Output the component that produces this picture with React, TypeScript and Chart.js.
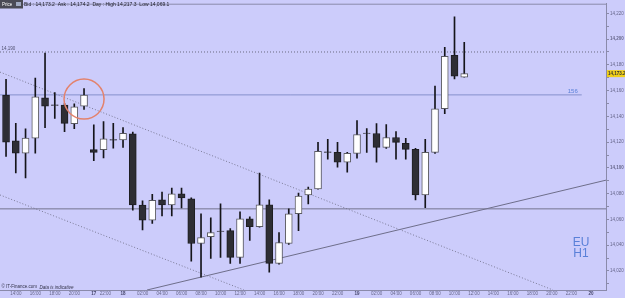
import React, { useEffect, useRef } from "react";
import { Chart, registerables } from "chart.js";

Chart.register(...registerables);

// ---- Data (H1 candles, index = hour slot) ----
const opens = [
  14156.5, 14121.1, 14111.5, 14123.1, 14154.4, 14149.0, 14148.8, 14134.4, 14148.0, 14114.2,
  14114.2, 14122.0, 14121.8, 14126.5, 14071.1, 14059.5, 14075.2, 14071.3, 14079.8, 14075.9,
  14041.3, 14046.7, 14051.0, 14051.3, 14030.5, 14060.5, 14054.4, 14071.3, 14025.9, 14041.3,
  14064.4, 14079.0, 14083.6, 14112.5, 14112.1, 14104.4, 14111.3, 14127.1, 14126.7, 14115.9,
  14123.6, 14119.0, 14114.4, 14079.0, 14112.1, 14145.9, 14187.5, 14170.5,
];
const closes = [
  14120.0, 14111.5, 14123.1, 14155.2, 14148.0, 14148.6, 14134.6, 14147.5, 14156.5, 14112.1,
  14122.6, 14121.6, 14126.9, 14071.3, 14059.5, 14074.9, 14071.3, 14079.8, 14076.7, 14041.3,
  14045.9, 14049.8, 14050.6, 14030.5, 14060.5, 14054.4, 14071.3, 14025.9, 14042.1, 14064.4,
  14078.2, 14083.6, 14112.8, 14112.1, 14104.4, 14111.3, 14125.9, 14126.7, 14115.9, 14123.6,
  14119.8, 14114.4, 14079.0, 14112.1, 14145.9, 14186.7, 14171.3, 14173.2,
];
const highs = [
  14168.8, 14134.6, 14130.3, 14169.8, 14189.2, 14158.5, 14150.0, 14149.8, 14161.5, 14133.4,
  14135.9, 14134.6, 14131.3, 14127.8, 14074.4, 14079.5, 14081.3, 14084.4, 14084.4, 14076.7,
  14064.4, 14061.3, 14072.1, 14052.8, 14065.9, 14062.1, 14095.9, 14075.2, 14049.8, 14068.2,
  14080.5, 14085.2, 14119.8, 14122.1, 14119.8, 14112.1, 14136.7, 14130.5, 14134.4, 14133.6,
  14128.2, 14122.9, 14115.2, 14122.1, 14163.6, 14193.6, 14217.3, 14197.5,
];
const lows = [
  14109.0, 14096.2, 14092.3, 14111.5, 14131.3, 14138.5, 14128.2, 14130.5, 14145.4, 14105.7,
  14107.7, 14115.4, 14115.9, 14067.2, 14051.8, 14056.9, 14062.8, 14062.8, 14069.0, 14027.5,
  14015.2, 14029.8, 14030.5, 14025.9, 14025.9, 14043.6, 14054.0, 14019.0, 14025.2, 14040.5,
  14051.3, 14072.1, 14083.4, 14106.7, 14100.5, 14096.7, 14107.5, 14112.1, 14104.4, 14115.2,
  14106.7, 14106.7, 14075.2, 14069.1, 14111.3, 14142.1, 14169.0, 14170.5,
];

// ---- Axis ticks ----
const xTickPositions = [
  1, 3, 5, 7, 9, 10.2, 12, 14, 16, 18, 20, 22, 24, 26, 28, 30, 32, 34, 36, 38,
  40, 42, 44, 46, 48, 50, 52, 54, 56, 58, 60,
];
const xTickLabels = [
  "14:00", "16:00", "18:00", "20:00", "17", "22:00", "18", "02:00", "04:00", "06:00",
  "08:00", "10:00", "12:00", "14:00", "16:00", "18:00", "20:00", "22:00", "19", "02:00",
  "04:00", "06:00", "08:00", "10:00", "12:00", "14:00", "16:00", "18:00", "20:00", "22:00", "20",
];
const dayLabels = ["17", "18", "19", "20"];
const xMin = -0.62;
const xMax = 61.54;
const yMin = 14005.2;
const yMax = 14227.5;
const yStep = 10;
const yLabelStep = 20;

// ---- Studies ----
const resistanceLevel = 14190;
const midLevel = 14156.7;
const midLevelEnd = 59.05;
const midLevelLabel = "156";
const supportLevel = 14068.2;
const upperTrend = [
  { x: -0.62, y: 14174.4 },
  { x: 56.1, y: 14005.2 },
];
const lowerTrend = [
  { x: -0.62, y: 14079.0 },
  { x: 24.4, y: 14005.2 },
];
const risingTrend = [
  { x: 14.46, y: 14005.2 },
  { x: 61.54, y: 14090.5 },
];
const circledCandle = 8;
const headerLabel = "Price";
const headerText = "Bid : 14,173.2  Ask : 14,174.2  Day : High 14,217.3  Low 14,069.1";
const sourceText = "\u00a9 IT-Finance.com";
const sourceNote = "Data is indicative";
const instrumentLines = ["EU", "H1"];

const FONT = "'Liberation Sans', Arial, sans-serif";
const BG = "#ccccfb";
const AXIS = "#8a8aaa";
const TICK_TEXT = "#66668a";

const fmt = (v: number, d = 0) =>
  v.toLocaleString("en-US", { minimumFractionDigits: d, maximumFractionDigits: d });

export default function App() {
  const ref = useRef<HTMLCanvasElement | null>(null);

  useEffect(() => {
    if (!ref.current) return;
    const isBear = opens.map((o, i) => o > closes[i]);

    const decor = {
      id: "decor",
      beforeDraw(chart: any) {
        const c = chart.ctx;
        c.save();
        c.fillStyle = BG;
        c.fillRect(0, 0, chart.width, chart.height);
        c.restore();
      },
      afterDatasetsDraw(chart: any) {
        const c = chart.ctx;
        const xs = chart.scales.x;
        const ys = chart.scales.y;
        const area = chart.chartArea;
        c.save();
        // top border
        c.strokeStyle = AXIS;
        c.lineWidth = 1;
        c.beginPath();
        c.moveTo(0, area.top + 0.5);
        c.lineTo(area.right, area.top + 0.5);
        c.stroke();

        // circle highlight
        const cx = xs.getPixelForValue(circledCandle);
        const cy = ys.getPixelForValue((highs[circledCandle] + lows[circledCandle]) / 2);
        c.strokeStyle = "#e3826c";
        c.lineWidth = 1.5;
        c.beginPath();
        c.arc(cx, cy, 20, 0, Math.PI * 2);
        c.stroke();

        // level labels
        c.font = `4.5px ${FONT}`;
        c.fillStyle = "#505070";
        c.textBaseline = "bottom";
        c.textAlign = "left";
        c.fillText(fmt(resistanceLevel), 1.5, ys.getPixelForValue(resistanceLevel) - 0.5);

        c.font = `6px ${FONT}`;
        c.fillStyle = "#5a80d8";
        c.textAlign = "right";
        c.fillText(midLevelLabel, xs.getPixelForValue(midLevelEnd) - 4, ys.getPixelForValue(midLevel) - 1);

        // instrument label
        c.font = `12px ${FONT}`;
        c.fillStyle = "#5a80d8";
        c.textAlign = "center";
        c.textBaseline = "alphabetic";
        const ix = area.right - 25;
        c.fillText(instrumentLines[0], ix, area.bottom - 44);
        c.fillText(instrumentLines[1], ix, area.bottom - 33);

        // source
        c.textAlign = "left";
        c.textBaseline = "bottom";
        c.fillStyle = "#33334a";
        c.font = `4.5px ${FONT}`;
        c.fillText(sourceText, 1.5, area.bottom - 0.5);
        const w = c.measureText(sourceText + "  ").width;
        c.font = `italic 4.5px ${FONT}`;
        c.fillText(sourceNote, 1.5 + w, area.bottom - 0.5);

        // header
        c.fillStyle = "#4a4a55";
        c.fillRect(0, 0, 23, 8.5);
        c.fillStyle = "#ffffff";
        c.font = `4.5px ${FONT}`;
        c.textBaseline = "middle";
        c.fillText(headerLabel, 2, 4.5);
        c.fillStyle = "#9fa8c0";
        c.fillRect(16, 2, 5, 4);
        c.fillStyle = "#22222e";
        c.font = `5px ${FONT}`;
        c.fillText(headerText, 24, 5);

        // price box
        const last = closes[closes.length - 1];
        const py = ys.getPixelForValue(last);
        c.fillStyle = "#f0cf1a";
        c.fillRect(area.right + 1, py - 3.5, 20, 7);
        c.fillStyle = "#333";
        c.font = `bold 4.5px ${FONT}`;
        c.textBaseline = "middle";
        c.fillText(fmt(last, 1), area.right + 2, py + 0.3);
        c.restore();
      },
    };

    const lineDs = (data: any[], color: string, dash: number[], order = 5) => ({
      type: "line" as const,
      data,
      borderColor: color,
      borderWidth: 1,
      borderDash: dash,
      pointRadius: 0,
      fill: false,
      tension: 0,
      order,
    });

    const chart = new Chart(ref.current, {
      type: "bar",
      data: {
        datasets: [
          {
            type: "bar",
            data: opens.map((o, i) => ({ x: i, y: [o, closes[i]] })),
            barThickness: 7,
            grouped: false,
            backgroundColor: isBear.map((b) => (b ? "#2e2e34" : "#ffffff")),
            borderColor: isBear.map((b) => (b ? "#1e1e22" : "#5a5a62")),
            borderWidth: 1,
            borderSkipped: false,
            order: 1,
          } as any,
          {
            type: "bar",
            data: lows.map((l, i) => ({ x: i, y: [l, highs[i]] })),
            barThickness: 1,
            grouped: false,
            backgroundColor: "#15151a",
            borderWidth: 0,
            order: 2,
          } as any,
          lineDs([{ x: xMin, y: resistanceLevel }, { x: xMax, y: resistanceLevel }], "#6a6a80", [1, 2]),
          lineDs([{ x: xMin, y: midLevel }, { x: midLevelEnd, y: midLevel }], "#8590cc", []),
          lineDs([{ x: xMin, y: supportLevel }, { x: xMax, y: supportLevel }], "#74748e", []),
          lineDs(upperTrend, "#7a7a95", [1, 2]),
          lineDs(lowerTrend, "#7a7a95", [1, 2]),
          lineDs(risingTrend, "#6e6e8a", []),
        ] as any,
      },
      options: {
        animation: false,
        responsive: false,
        devicePixelRatio: 1,
        layout: { padding: { top: 1, left: 0, right: 0, bottom: 0 } },
        plugins: { legend: { display: false }, tooltip: { enabled: false } },
        scales: {
          x: {
            type: "linear",
            min: xMin,
            max: xMax,
            offset: false,
            afterBuildTicks: (s: any) => {
              s.ticks = xTickPositions.map((v) => ({ value: v }));
            },
            afterFit: (s: any) => {
              s.height = 8;
            },
            grid: { drawOnChartArea: false, tickLength: 1.5, color: AXIS, offset: false },
            border: { display: true, color: AXIS },
            ticks: {
              autoSkip: false,
              maxRotation: 0,
              minRotation: 0,
              padding: 0,
              color: (ctx: any) =>
                dayLabels.includes(xTickLabels[ctx.index]) ? "#44446a" : TICK_TEXT,
              font: (ctx: any) => ({
                family: FONT,
                size: 4.5,
                weight: dayLabels.includes(xTickLabels[ctx.index]) ? "bold" : "normal",
              }),
              callback: (_v: any, i: number) => xTickLabels[i],
            },
          },
          y: {
            type: "linear",
            position: "right",
            min: yMin,
            max: yMax,
            afterBuildTicks: (s: any) => {
              const t: any[] = [];
              for (let v = Math.ceil(yMin / yStep) * yStep; v <= yMax; v += yStep) t.push({ value: v });
              s.ticks = t;
            },
            afterFit: (s: any) => {
              s.width = 19;
            },
            grid: { drawOnChartArea: false, tickLength: 3, color: AXIS },
            border: { display: true, color: AXIS },
            ticks: {
              padding: 1,
              color: TICK_TEXT,
              font: (ctx: any) => ({
                family: FONT,
                size: 4.5,
                weight: ctx.tick && Math.round(ctx.tick.value) % 100 === 0 ? "bold" : "normal",
              }),
              callback: (v: any) => (Math.round(v) % yLabelStep === 0 ? fmt(Math.round(v)) : ""),
            },
          },
        },
      } as any,
      plugins: [decor],
    });
    return () => chart.destroy();
  }, []);

  return (
    <div style={{ position: "absolute", left: 0, top: 0, width: 625, height: 298 }}>
      <canvas ref={ref} width={625} height={298} style={{ display: "block" }} />
    </div>
  );
}
